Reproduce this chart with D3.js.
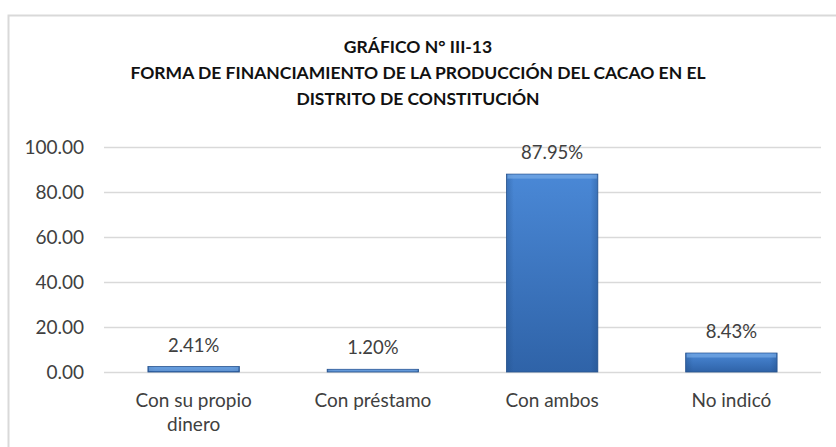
<!DOCTYPE html>
<html><head><meta charset="utf-8">
<script src="https://cdn.jsdelivr.net/npm/d3@7"></script>
<style>body{margin:0;background:#fff}svg{display:block}</style>
</head><body>
<svg id="c" width="836" height="447"></svg>
<script>
const categories = [["Con su propio","dinero"],["Con préstamo"],["Con ambos"],["No indicó"]];
const values = [2.41, 1.20, 87.95, 8.43];
const valueLabels = ["2.41%","1.20%","87.95%","8.43%"];
const yTicks = [0,20,40,60,80,100];
const titleLines = ["GRÁFICO N° III-13","FORMA DE FINANCIAMIENTO DE LA PRODUCCIÓN DEL CACAO EN EL","DISTRITO DE CONSTITUCIÓN"];

const svg = d3.select("#c");
const font = "Lato, 'Open Sans', sans-serif";
svg.append("rect").attr("x",8.5).attr("y",15.5).attr("width",840).attr("height",450)
  .attr("fill","#fff").attr("stroke","#d9d9d9").attr("stroke-width",2);

const defs = svg.append("defs");
const g1 = defs.append("linearGradient").attr("id","bg").attr("x1",0).attr("y1",0).attr("x2",0).attr("y2",1);
g1.append("stop").attr("offset",0).attr("stop-color","#4a88d6");
g1.append("stop").attr("offset",1).attr("stop-color","#2f63a8");
const g2 = defs.append("linearGradient").attr("id","bh").attr("x1",0).attr("y1",0).attr("x2",1).attr("y2",0);
g2.append("stop").attr("offset",0).attr("stop-color","#1f4a80").attr("stop-opacity",0.35);
g2.append("stop").attr("offset",0.08).attr("stop-color","#1f4a80").attr("stop-opacity",0);
g2.append("stop").attr("offset",0.92).attr("stop-color","#1f4a80").attr("stop-opacity",0);
g2.append("stop").attr("offset",1).attr("stop-color","#1f4a80").attr("stop-opacity",0.35);

const x = d3.scaleBand().domain(d3.range(values.length)).range([104,821]).paddingInner(0.49).paddingOuter(0.245);
const y = d3.scaleLinear().domain([0,100]).range([372,147]);

// gridlines
svg.append("g").selectAll("line").data(yTicks).join("line")
  .attr("x1",104).attr("x2",821).attr("y1",d=>y(d)+0.5).attr("y2",d=>y(d)+0.5)
  .attr("stroke","#d9d9d9").attr("stroke-width",1.5);

// y axis
const yAxis = svg.append("g").attr("transform","translate(104,0)")
  .call(d3.axisLeft(y).tickValues(yTicks).tickFormat(d3.format(".2f")).tickSize(0).tickPadding(20));
yAxis.select(".domain").remove();
yAxis.selectAll("text").attr("font-family",font).attr("font-size",19).attr("fill","#404040");

// bars
const bars = svg.append("g").selectAll("g").data(values).join("g");
bars.append("rect").attr("x",(d,i)=>x(i)).attr("width",x.bandwidth())
  .attr("y",d=>y(d)).attr("height",d=>y(0)-y(d)).attr("fill","url(#bg)").attr("stroke","#2a5590").attr("stroke-width",0.8);
bars.append("rect").attr("x",(d,i)=>x(i)).attr("width",x.bandwidth())
  .attr("y",d=>y(d)).attr("height",d=>y(0)-y(d)).attr("fill","url(#bh)");
bars.append("rect").attr("x",(d,i)=>x(i)+1).attr("width",x.bandwidth()-2)
  .attr("y",d=>y(d)+0.5).attr("height",d=>Math.min(4,y(0)-y(d)-1)).attr("fill","#7fb0ea").attr("opacity",0.6);

// value labels
svg.append("g").selectAll("text").data(values).join("text")
  .attr("x",(d,i)=>x(i)+x.bandwidth()/2).attr("y",d=>y(d)-15)
  .attr("text-anchor","middle").attr("font-family",font).attr("font-size",18.5).attr("fill","#404040")
  .text((d,i)=>valueLabels[i]);

// category labels
const cl = svg.append("g").selectAll("text").data(categories).join("text")
  .attr("text-anchor","middle").attr("font-family",font).attr("font-size",19).attr("fill","#404040");
cl.each(function(lines,i){
  const t = d3.select(this);
  lines.forEach((l,k)=>t.append("tspan").attr("x",x(i)+x.bandwidth()/2).attr("y",407+k*24).text(l));
});

// title
svg.append("g").selectAll("text").data(titleLines).join("text")
  .attr("x",418).attr("y",(d,i)=>53+i*26).attr("text-anchor","middle")
  .attr("font-family",font).attr("font-weight","bold").attr("font-size",17.5).attr("fill","#111")
  .text(d=>d);
</script>
</body></html>
